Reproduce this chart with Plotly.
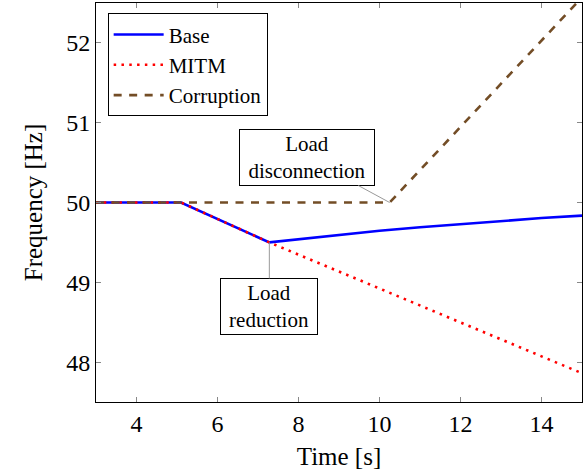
import plotly.graph_objects as go

# Data
base_t = [3.0, 5.1, 7.28, 8.0, 9.0, 10.0, 11.0, 12.0, 13.0, 14.0, 15.0]
base_f = [50.0, 50.0, 49.5, 49.54, 49.595, 49.645, 49.69, 49.73, 49.77, 49.805, 49.835]

mitm_t = [3.0, 5.1, 7.28, 10.0, 12.5, 15.0]
mitm_f = [50.0, 50.0, 49.5, 48.92, 48.39, 47.86]

corr_t = [3.0, 10.25, 15.0]
corr_f = [50.0, 50.0, 52.57]

x_ticks = [4, 6, 8, 10, 12, 14]
y_ticks = [48, 49, 50, 51, 52]

SERIF = "Liberation Serif, Times New Roman, Times, serif"

fig = go.Figure()
fig.add_trace(go.Scatter(x=base_t, y=base_f, mode="lines", name="Base",
                         line=dict(color="#0000ff", width=2.6)))
fig.add_trace(go.Scatter(x=mitm_t, y=mitm_f, mode="lines", name="MITM",
                         line=dict(color="#ff0000", width=2.6, dash="2.5px,5.3px")))
fig.add_trace(go.Scatter(x=corr_t, y=corr_f, mode="lines", name="Corruption",
                         line=dict(color="#734d26", width=2.6, dash="8px,7.5px")))

fig.add_annotation(x=10.25, y=50.0, ax=-83, ay=-45, axref="pixel", ayref="pixel",
                   text="Load<br>disconnection", showarrow=True, arrowhead=0,
                   arrowwidth=1, arrowcolor="#999999", standoff=0,
                   font=dict(family=SERIF, size=21, color="black"),
                   bgcolor="white", bordercolor="black", borderwidth=1,
                   borderpad=1, width=132, height=53)
fig.add_annotation(x=7.28, y=49.5, ax=0, ay=64, axref="pixel", ayref="pixel",
                   text="Load<br>reduction", showarrow=True, arrowhead=0,
                   arrowwidth=1, arrowcolor="#999999", standoff=0,
                   font=dict(family=SERIF, size=21, color="black"),
                   bgcolor="white", bordercolor="black", borderwidth=1,
                   borderpad=1, width=94, height=53)

axis_common = dict(showgrid=False, zeroline=False, showline=True, linecolor="black",
                   linewidth=1, mirror="allticks", ticks="inside", ticklen=5,
                   tickcolor="#888888", tickwidth=1,
                   tickfont=dict(family=SERIF, size=24, color="black"))

fig.update_xaxes(range=[3, 15], tickvals=x_ticks,
                 title=dict(text="Time [s]", font=dict(family=SERIF, size=25, color="black"), standoff=11),
                 **axis_common)
fig.update_yaxes(range=[47.5, 52.5], tickvals=y_ticks,
                 title=dict(text="Frequency [Hz]", font=dict(family=SERIF, size=25, color="black"), standoff=16),
                 **axis_common)

fig.update_layout(
    width=584, height=473,
    margin=dict(l=96, r=2, t=3, b=71),
    plot_bgcolor="white", paper_bgcolor="white",
    showlegend=True,
    legend=dict(x=0.024, y=0.974, xanchor="left", yanchor="top",
                bgcolor="white", bordercolor="black", borderwidth=1,
                font=dict(family=SERIF, size=21, color="black"),
                tracegroupgap=0, itemwidth=50),
)

fig.write_html("out.html", config={"displayModeBar": False},
               post_script="document.body.style.margin='0';document.body.style.padding='0';")
